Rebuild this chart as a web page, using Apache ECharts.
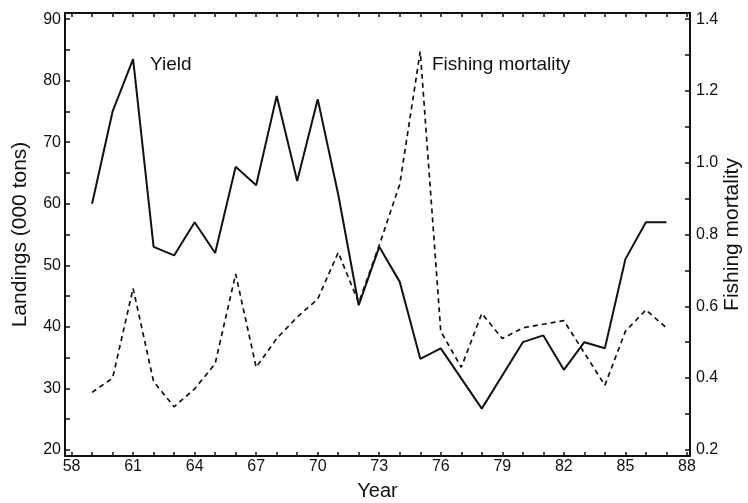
<!DOCTYPE html>
<html>
<head>
<meta charset="utf-8">
<script src="https://cdn.jsdelivr.net/npm/echarts@6/dist/echarts.min.js"></script>
<style>
html,body{margin:0;padding:0;background:#fff;}
#chart{width:748px;height:503px;}
</style>
</head>
<body>
<div id="chart"></div>
<script>
// ---- data ----
var yieldYears  = [59, 60, 61, 62, 63, 64, 65, 66, 67, 68, 69, 70, 71, 72, 73, 74, 75, 76, 78, 80, 81, 82, 83, 84, 85, 86, 87];
var yieldValues = [60, 75, 83.5, 53, 51.6, 57, 52, 66, 63, 77.5, 63.7, 77, 61.5, 43.5, 53, 47.3, 34.8, 36.5, 26.7, 37.5, 38.6, 33, 37.5, 36.5, 51, 57, 57];

var mortYears  = [59, 60, 61, 62, 63, 64, 65, 66, 67, 68, 69, 70, 71, 72, 73, 74, 75, 76, 77, 78, 79, 80, 81, 82, 84, 85, 86, 87];
var mortValues = [0.36, 0.40, 0.65, 0.39, 0.32, 0.37, 0.44, 0.69, 0.43, 0.51, 0.57, 0.62, 0.75, 0.61, 0.77, 0.94, 1.31, 0.53, 0.43, 0.58, 0.51, 0.54, 0.55, 0.56, 0.38, 0.53, 0.59, 0.54];

var xTickValues  = [58,59,60,61,62,63,64,65,66,67,68,69,70,71,72,73,74,75,76,77,78,79,80,81,82,83,84,85,86,87,88];
var xLabelValues = [58, 61, 64, 67, 70, 73, 76, 79, 82, 85, 88];
var leftTickValues  = [20, 25, 30, 35, 40, 45, 50, 55, 60, 65, 70, 75, 80, 85, 90];
var leftLabelValues = [20, 30, 40, 50, 60, 70, 80, 90];
var rightTickValues  = [0.2, 0.3, 0.4, 0.5, 0.6, 0.7, 0.8, 0.9, 1.0, 1.1, 1.2, 1.3, 1.4];
var rightLabelValues = [0.2, 0.4, 0.6, 0.8, 1.0, 1.2, 1.4];

function pairs(xs, ys) { return xs.map(function (x, i) { return [x, ys[i]]; }); }

var ink = '#111';
var font = 'Liberation Sans, Arial, sans-serif';
var axisLineStyle = { show: true, lineStyle: { color: ink, width: 2 } };

var chart = echarts.init(document.getElementById('chart'), null, { renderer: 'canvas' });
chart.setOption({
  animation: false,
  backgroundColor: '#fff',
  grid: { left: 65, right: 58, top: 13, bottom: 47, containLabel: false, outerBoundsMode: 'none' },
  xAxis: [{
    type: 'value', position: 'bottom', min: 57.68, max: 88.15,
    axisLine: axisLineStyle,
    axisTick: { show: true, inside: true, length: 4, customValues: xTickValues, lineStyle: { color: ink, width: 1.5 } },
    axisLabel: { customValues: xLabelValues, color: ink, fontSize: 16, fontFamily: font, margin: 3 },
    splitLine: { show: false },
    name: 'Year', nameLocation: 'middle', nameGap: 25,
    nameTextStyle: { color: ink, fontSize: 20, fontFamily: font }
  }, {
    type: 'value', position: 'top', min: 57.68, max: 88.15,
    axisLine: axisLineStyle,
    axisTick: { show: true, inside: true, length: 4, customValues: xTickValues, lineStyle: { color: ink, width: 1.5 } },
    axisLabel: { show: false },
    splitLine: { show: false }
  }],
  yAxis: [{
    type: 'value', position: 'left', min: 19, max: 91,
    axisLine: axisLineStyle,
    axisTick: { show: true, inside: true, length: 5, customValues: leftTickValues, lineStyle: { color: ink, width: 1.5 } },
    axisLabel: { customValues: leftLabelValues, color: ink, fontSize: 16, fontFamily: font, margin: 4 },
    splitLine: { show: false },
    name: 'Landings (000 tons)', nameLocation: 'middle', nameGap: 34, nameRotate: 90, nameMoveOverlap: false,
    nameTextStyle: { color: ink, fontSize: 21, fontFamily: font }
  }, {
    type: 'value', position: 'right', min: 0.182857, max: 1.417143,
    axisLine: axisLineStyle,
    axisTick: { show: true, inside: true, length: 5, customValues: rightTickValues, lineStyle: { color: ink, width: 1.5 } },
    axisLabel: { customValues: rightLabelValues, color: ink, fontSize: 16, fontFamily: font, margin: 6,
      formatter: function (v) { return (Math.round(v * 10) / 10).toFixed(1); } },
    splitLine: { show: false },
    name: 'Fishing mortality', nameLocation: 'middle', nameGap: 32, nameRotate: 90, nameMoveOverlap: false,
    nameTextStyle: { color: ink, fontSize: 21, fontFamily: font }
  }],
  graphic: [
    { type: 'text', left: 150, top: 55, style: { text: 'Yield', fill: ink, font: '19px Liberation Sans, Arial, sans-serif' } },
    { type: 'text', left: 432, top: 55, style: { text: 'Fishing mortality', fill: ink, font: '19px Liberation Sans, Arial, sans-serif' } }
  ],
  series: [{
    name: 'Yield', type: 'line', xAxisIndex: 0, yAxisIndex: 0,
    data: pairs(yieldYears, yieldValues),
    showSymbol: false, symbol: 'none',
    lineStyle: { color: ink, width: 2, type: 'solid' }
  }, {
    name: 'Fishing mortality', type: 'line', xAxisIndex: 0, yAxisIndex: 1,
    data: pairs(mortYears, mortValues),
    showSymbol: false, symbol: 'none',
    lineStyle: { color: ink, width: 1.7, type: [5, 4] }
  }]
});
</script>
</body>
</html>
